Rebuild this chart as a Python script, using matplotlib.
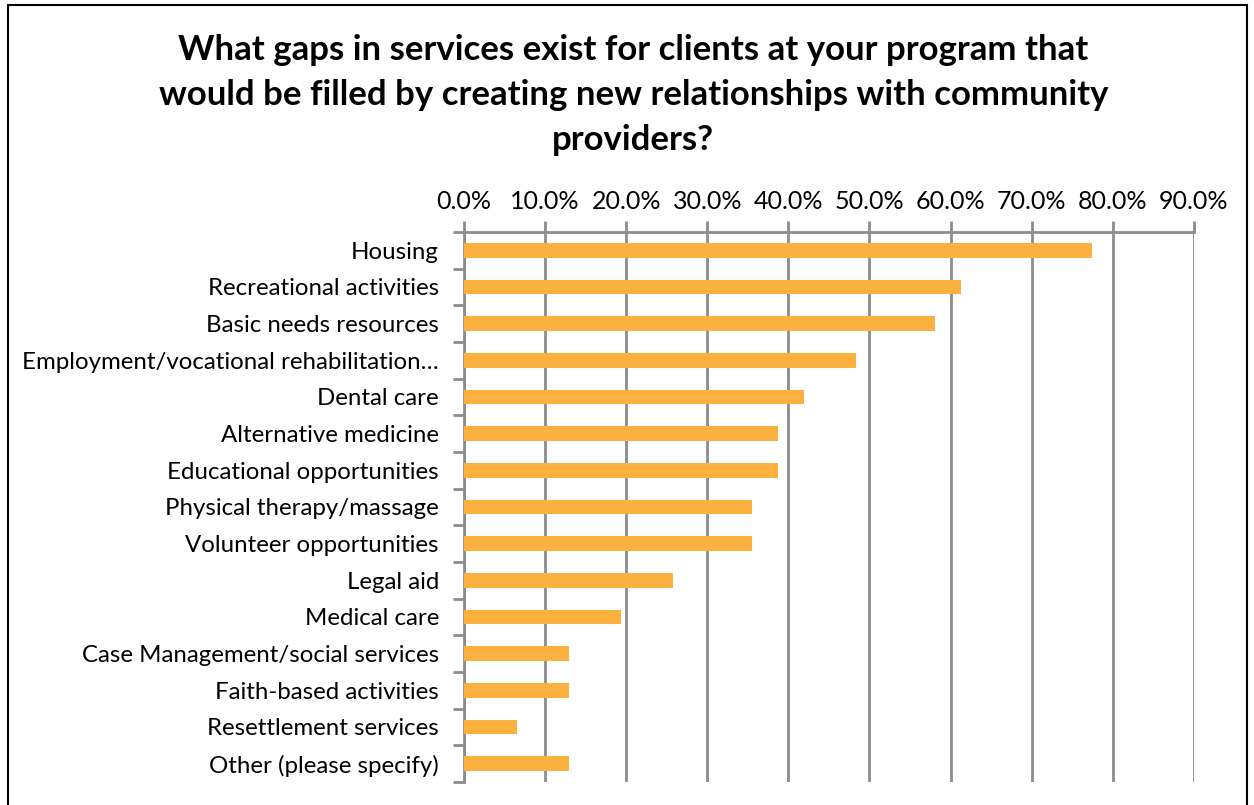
import matplotlib
matplotlib.use("Agg")
import matplotlib.pyplot as plt
from matplotlib.ticker import FixedLocator, PercentFormatter
import numpy as np

categories = [
    "Housing",
    "Recreational activities",
    "Basic needs resources",
    "Employment/vocational rehabilitation…",
    "Dental care",
    "Alternative medicine",
    "Educational opportunities",
    "Physical therapy/massage",
    "Volunteer opportunities",
    "Legal aid",
    "Medical care",
    "Case Management/social services",
    "Faith-based activities",
    "Resettlement services",
    "Other (please specify)",
]
percent = [77.4, 61.3, 58.1, 48.4, 41.9, 38.7, 38.7, 35.5, 35.5, 25.8, 19.4, 12.9, 12.9, 6.5, 12.9]
x_ticks = [0, 10, 20, 30, 40, 50, 60, 70, 80, 90]

title = ("What gaps in services exist for clients at your program that\n"
         "would be filled by creating new relationships with community\n"
         "providers?")

plt.rcParams["font.family"] = ["Lato", "DejaVu Sans"]

fig = plt.figure(figsize=(12.54, 8.05), dpi=100)
ax = fig.add_axes([0.370, 0.0286, 0.582, 0.6832])

grid_col = "#8c8c8c"
bar_col = "#fbb040"

y = np.arange(len(categories))
ax.barh(y, percent, height=0.4, color=bar_col, zorder=3)
ax.set_ylim(len(categories) - 0.5, -0.5)
ax.set_xlim(0, 90)

ax.xaxis.tick_top()
ax.xaxis.set_major_locator(FixedLocator(x_ticks))
ax.xaxis.set_major_formatter(PercentFormatter(decimals=1))
ax.tick_params(axis="x", which="major", length=8, width=2, color=grid_col,
               labelsize=18, pad=6, labelcolor="black")
ax.grid(axis="x", color=grid_col, linewidth=2, zorder=0)

ax.set_yticks(y)
ax.set_yticklabels(categories)
ax.yaxis.set_minor_locator(FixedLocator(np.arange(-0.5, len(categories), 1.0)))
ax.tick_params(axis="y", which="major", length=0, labelsize=17.3, pad=18, labelcolor="black")
ax.tick_params(axis="y", which="minor", length=8, width=2, color=grid_col)

for side in ("right", "bottom"):
    ax.spines[side].set_visible(False)
for side in ("left", "top"):
    ax.spines[side].set_color(grid_col)
    ax.spines[side].set_linewidth(2)

fig.text(0.505, 0.958, title, ha="center", va="top", fontsize=25,
         fontweight="bold", linespacing=1.5)

# outer chart border
border = plt.Rectangle((0.0065, -0.01), 0.988, 1.004, transform=fig.transFigure,
                       fill=False, edgecolor="black", linewidth=1.5)
fig.add_artist(border)

fig.savefig("out.png", dpi=100)
